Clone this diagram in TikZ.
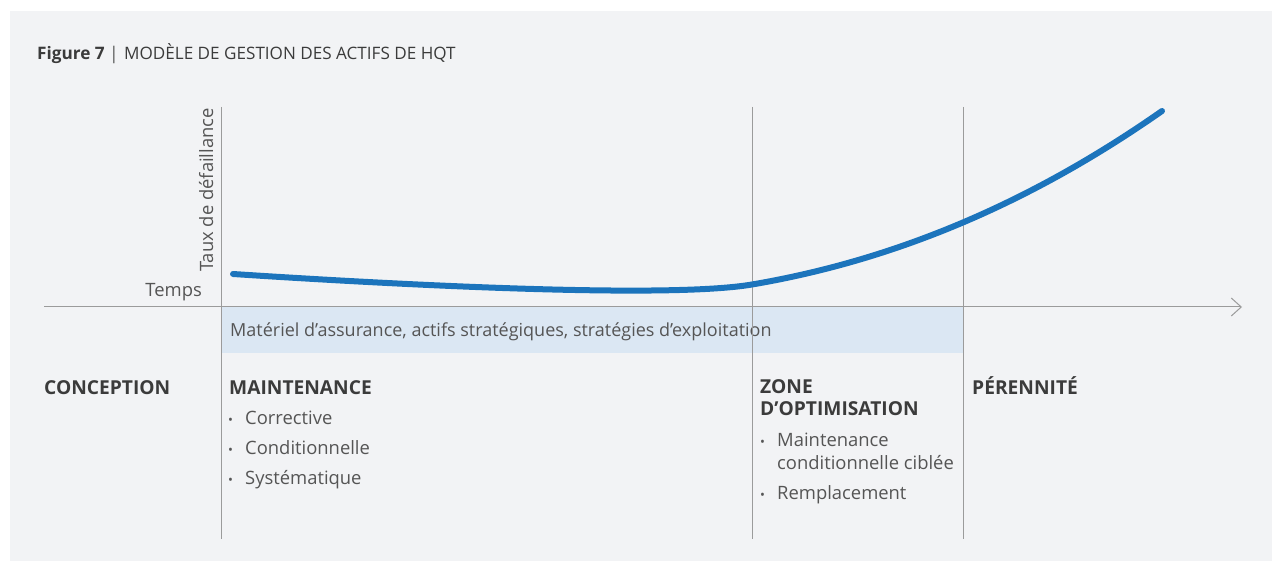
\documentclass[tikz,border=0pt]{standalone}
\usepackage{fontspec}
\setmainfont{Open Sans}
\usetikzlibrary{arrows.meta}
\definecolor{panel}{HTML}{F2F3F5}
\definecolor{axisgrey}{HTML}{9B9B9B}
\definecolor{curveblue}{HTML}{1C74BC}
\definecolor{bandblue}{HTML}{DBE7F3}
\definecolor{txt}{HTML}{555555}
\definecolor{head}{HTML}{3B3B3B}
\tikzset{
  body/.style={anchor=base west, inner sep=0pt, text=txt, font=\fontsize{18.4}{22}\selectfont},
  headtxt/.style={anchor=base west, inner sep=0pt, text=head, font=\bfseries\fontsize{19.2}{22}\selectfont},
  bul/.style={anchor=base west, inner sep=0pt, text=txt, font=\fontsize{13}{20}\selectfont},
  axisline/.style={draw=axisgrey, line width=1pt},
  curveline/.style={draw=curveblue, line width=6pt, line cap=round},
}
\begin{document}
\begin{tikzpicture}[x=1pt,y=-1pt]
\useasboundingbox (0,0) rectangle (1272,561);
\fill[panel] (10,11) rectangle (1272,561);
% title
\node[headtxt, font=\bfseries\fontsize{17.2}{20}\selectfont] (fig) at (37,60) {Figure 7};
\node[body, font=\fontsize{17.5}{20}\selectfont] (bar) at (109,60) {|};
\node[body, text=head, font=\fontsize{17.1}{20}\selectfont] (title) at (124,60) {MODÈLE DE GESTION DES ACTIFS DE HQT};
% band
\fill[bandblue] (221,307) rectangle (964,353);
\node[body, font=\fontsize{18}{22}\selectfont] (band) at (230,337) {Matériel d’assurance, actifs stratégiques, stratégies d’exploitation};
% axes and separators
\coordinate (vtop) at (221,107);
\coordinate (vbot) at (221,539);
\coordinate (ztop) at (752.5,107);
\coordinate (zbot) at (752.5,539);
\coordinate (ptop) at (963.5,107);
\coordinate (pbot) at (963.5,539);
\coordinate (hstart) at (44,307);
\coordinate (hend) at (1242,307);
\draw[axisline] (vtop) -- (vbot);
\draw[axisline] (ztop) -- (zbot);
\draw[axisline] (ptop) -- (pbot);
\draw[axisline, -{Straight Barb[length=10pt,width=18pt,line width=1pt]}] (hstart) -- (hend);
% axis labels
\node[body, rotate=90] (taux) at (213,272) {Taux de défaillance};
\node[body, anchor=base east] (temps) at (202,297) {Temps};
% curve
\coordinate (c0) at (233,274);
\coordinate (c1) at (752,284.5);
\coordinate (c2) at (1162,111);
\draw[curveline] (c0) .. controls (423,286.4) and (672,298.1) .. (c1)
                      .. controls (889,261.2) and (1025,206.9) .. (c2);
% columns
\node[headtxt] (conc) at (44,394) {CONCEPTION};
\node[headtxt] (maint) at (229,394) {MAINTENANCE};
\node[bul] (b1) at (228,424) {•};
\node[body] (m1) at (245,424) {Corrective};
\node[bul] (b2) at (228,454) {•};
\node[body] (m2) at (245,454) {Conditionnelle};
\node[bul] (b3) at (228,484) {•};
\node[body] (m3) at (245,484) {Systématique};
\node[headtxt] (zone1) at (760,393) {ZONE};
\node[headtxt] (zone2) at (760,415) {D’OPTIMISATION};
\node[bul] (b4) at (760,446) {•};
\node[body] (z1) at (777,446) {Maintenance};
\node[body] (z2) at (777,469) {conditionnelle ciblée};
\node[bul] (b5) at (760,499) {•};
\node[body] (z3) at (777,499) {Remplacement};
\node[headtxt] (peren) at (972,394) {PÉRENNITÉ};
\end{tikzpicture}
\end{document}
